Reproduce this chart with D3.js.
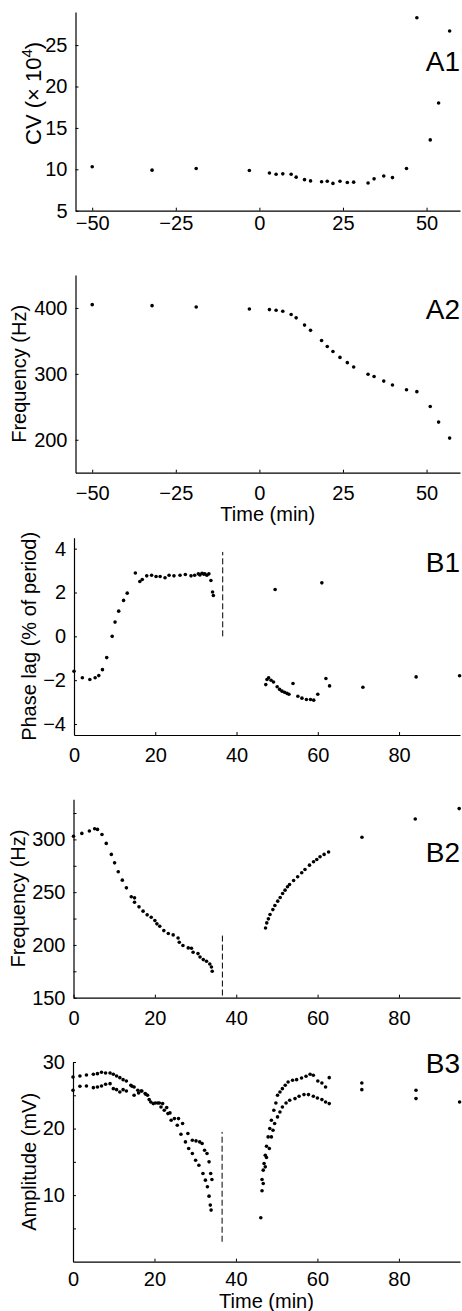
<!DOCTYPE html>
<html>
<head>
<meta charset="utf-8">
<script src="https://cdn.jsdelivr.net/npm/d3@7"></script>
<style>
  body { margin: 0; background: #fff; }
  svg { display: block; }
</style>
</head>
<body>
<div id="chart"></div>
<script>
const WIDTH = 462;
const HEIGHT = 1311;
const FONT = '"Liberation Sans", Arial, Helvetica, sans-serif';
const DOT_R = 1.8;

// ---- A: time course before / after (min)
const aTime = [-50, -32.1, -18.9, -3.0, 3.0, 5.0, 7.0, 9.5, 11.0, 13.5, 15.3, 18.6, 20.3, 22.0,
  24.1, 26.3, 28.2, 32.5, 34.3, 37.2, 39.8, 44.0, 47.1, 51.1, 53.6, 56.9];
const aCV = [10.3, 9.9, 10.1, 9.85, 9.55, 9.4, 9.45, 9.4, 9.05, 8.75, 8.6, 8.5, 8.55, 8.3,
  8.55, 8.4, 8.45, 8.35, 8.85, 9.2, 9.0, 10.1, 28.3, 13.55, 18.0, 26.7];
const aFreq = [405, 403.5, 401.5, 398.5, 397.5, 396.5, 395, 390, 385, 374, 366, 350.5, 341.5, 334,
  325, 317, 310.5, 299.5, 296, 289, 283, 275.8, 273, 250.5, 226.8, 202.5];

// ---- B1: phase lag
const b1Time = [0, 2.05, 3.9, 5.2, 6.1, 7.0, 8.05, 9.4, 10.1, 11.0, 12.2, 13.1, 15.1, 16.2, 16.8,
  17.9, 19.1, 20.2, 21.2, 22.4, 23.4, 24.6, 26.1, 27.4, 28.8, 29.7, 30.6, 31.0, 31.5, 31.9, 32.2,
  32.7, 33.2, 33.7, 34.1, 34.3,
  49.5, 61.0, 47.2, 47.5, 47.9, 48.5, 49.1, 50.0, 50.6, 51.2, 51.8, 52.4, 52.9, 53.9, 55.1, 56.1,
  57.2, 58.2, 59.0, 60.0, 62.0, 62.9, 71.1, 84.2, 94.9];
const b1Phase = [-1.59, -1.89, -1.97, -1.89, -1.79, -1.52, -0.97, 0, 0.65, 1.15, 1.64, 1.97, 2.89, 2.5, 2.59,
  2.76, 2.79, 2.73, 2.73, 2.67, 2.79, 2.76, 2.79, 2.82, 2.76, 2.79, 2.85, 2.8, 2.88, 2.84, 2.85,
  2.79, 2.85, 2.55, 2.02, 1.86,
  2.14, 2.44, -2.2, -1.97, -1.89, -2.0, -2.08, -2.3, -2.42, -2.5, -2.55, -2.6, -2.64, -2.15, -2.73, -2.82,
  -2.88, -2.88, -2.91, -2.64, -1.92, -2.26, -2.32, -1.85, -1.8];

// ---- B2: frequency
const b2Time = [0, 2.05, 3.9, 5.2, 5.9, 7.0, 8.05, 9.3, 10.1, 11.0, 12.0, 13.0, 14.2, 15.0, 15.0,
  16.1, 17.1, 18.1, 19.1, 20.0, 20.5, 21.2, 22.2, 23.3, 24.5, 25.7, 26.0, 26.9, 28.2, 29.0, 29.4,
  30.6, 31.1, 31.9, 32.7, 33.5, 33.9, 34.1,
  47.2, 47.5, 47.9, 48.3, 49.0, 49.5, 50.2, 50.8, 51.4, 52.0, 52.6, 53.1, 54.1, 55.1, 56.1, 56.9,
  58.0, 59.0, 59.8, 60.6, 61.6, 62.7, 70.9, 84.0, 94.8];
const b2Freq = [303, 305.7, 307.9, 310.1, 309.5, 304.7, 296.2, 285.8, 277.8, 269.3, 261.4, 254.1, 245.6, 244.6, 240.5,
  236.1, 232, 228.5, 226.3, 223.1, 220, 217.7, 213.6, 210.8, 209.5, 206.6, 202.5, 199.4, 197.2, 196.8, 193,
  191.8, 188.6, 186.1, 184.5, 182, 179.1, 175,
  216.1, 220.9, 224.7, 228.8, 233.5, 237.3, 241.5, 244.9, 248.7, 251.9, 255.1, 257.3, 261.1, 264.6, 268.4, 271.5,
  275.6, 278.8, 281, 283.5, 285.8, 288, 302, 319.4, 329.2];

// ---- B3: amplitude, two traces
const b3UpperTime = [0, 1.7, 3.3, 5, 6, 7, 8, 9.1, 9.9, 10.7, 11.5, 12.3, 13.1, 14.2, 15, 15.9, 16.7,
  17.7, 18.3, 19.1, 20.2, 21.2, 22, 23, 23.8, 24.9, 25.9, 26.9, 28.2, 29.3, 30.2, 31.1, 31.7, 32.3,
  32.9, 33.4, 33.8, 34.1,
  46.4, 46.7, 46.9, 47.2, 47.5, 47.9, 48.3, 48.7, 49.3, 49.8, 50.2, 50.8, 51.4, 52.1, 52.8, 53.9,
  54.9, 56.1, 57.2, 58.2, 59.0, 60.1, 61.1, 62.0, 62.9, 70.9, 84.2, 94.9];
const b3Upper = [27.75, 27.9, 28.05, 28.15, 28.25, 28.45, 28.35, 28.35, 28.15, 27.9, 27.65, 27.35, 27.15, 26.5, 26.25, 25.75, 25.65,
  25.25, 25, 24, 23.85, 23.85, 23.75, 23.15, 22.35, 21.5, 21.5, 20.75, 19.25, 18.25, 18.15, 18, 17.75, 16.75,
  16.25, 15, 13.25, 12.35,
  12.35, 13.75, 14.75, 16, 17.35, 18.75, 20, 21.25, 22.75, 23.85, 25, 25.5, 26, 26.5, 27, 27.25,
  27.35, 27.6, 27.85, 28.15, 28, 27.15, 26.85, 26.25, 27.65, 26.85, 25.75, 24];
const b3LowerTime = [0, 1.7, 3.3, 5, 6, 7, 8, 9.1, 9.9, 10.7, 11.5, 12.3, 13.1, 14.5, 15, 16.1, 16.9,
  17.9, 18.7, 19.7, 20.8, 21.6, 22.4, 23.3, 24.1, 25.6, 26.5, 27.6, 28.4, 29.3, 30.1, 30.9, 31.9, 32.5,
  33, 33.4, 33.7, 33.9,
  46.1, 46.4, 46.7, 47.2, 47.5, 48.2, 48.7, 49.1, 49.5, 50.2, 50.8, 51.4, 52.3, 53.2, 54.5, 55.5,
  56.7, 57.8, 59.0, 60.0, 61.1, 62.0, 62.9, 70.9, 84.2];
const b3Lower = [25.75, 26.35, 26.4, 26.15, 26.25, 26.4, 26.65, 26.75, 26, 25.85, 25.5, 25.85, 25.65, 26.35, 25, 25.35, 25.65,
  25.15, 24.35, 23.75, 23.85, 23.25, 22.75, 22.25, 21.25, 20.5, 19.15, 18, 17, 16.25, 15.25, 14.5, 13.25, 12.25,
  11.25, 9.85, 8.5, 7.75,
  6.6, 10.65, 11.75, 14.25, 15.65, 17, 18.75, 19.75, 20.75, 21.75, 22.5, 23.25, 23.85, 24.25, 24.5, 24.85,
  25.1, 25.1, 24.85, 24.6, 24.35, 24, 23.75, 25.85, 24.5];

// cooling block marker (dashed line) in the B panels
const cutTime = 36.6;
const b1CutRange = [0, 3.85];
const b2CutRange = [152, 210];
const b3CutRange = [3, 19.5];

const aTicks = [-50, -25, 0, 25, 50];
const bTicks = [0, 20, 40, 60, 80];

const svg = d3.select('#chart')
  .append('svg')
  .attr('width', WIDTH)
  .attr('height', HEIGHT)
  .attr('font-family', FONT);

/**
 * Draws one panel: axes, dots, label
 */
const drawPanel = (p) => {
  const xScale = d3.scaleLinear().domain(p.xDomain).range([p.left, p.right]);
  const yScale = d3.scaleLinear().domain(p.yDomain).range([p.bottom, p.top]);

  const xAxis = d3.axisBottom(xScale)
    .tickValues(p.xTicks)
    .tickSizeInner(-3)
    .tickSizeOuter(0)
    .tickPadding(p.xPad);
  const yAxis = d3.axisLeft(yScale)
    .tickValues(p.yTicks)
    .tickFormat(d => p.yLabels.includes(d) ? d3.format('')(d) : '')
    .tickSizeInner(-3)
    .tickSizeOuter(0)
    .tickPadding(8);

  const gx = svg.append('g')
    .attr('transform', `translate(0, ${p.bottom})`)
    .call(xAxis);
  const gy = svg.append('g')
    .attr('transform', `translate(${p.left}, 0)`)
    .call(yAxis);

  [gx, gy].forEach(g => {
    g.attr('font-family', FONT).attr('font-size', 20);
    g.selectAll('text').attr('fill', '#000');
    g.selectAll('line').attr('stroke', '#000');
    g.select('.domain').attr('stroke', '#000').attr('stroke-width', 1.2);
  });

  // dashed marker
  if (p.cut) {
    svg.append('line')
      .attr('x1', xScale(cutTime))
      .attr('x2', xScale(cutTime))
      .attr('y1', yScale(p.cut[0]))
      .attr('y2', yScale(p.cut[1]))
      .attr('stroke', '#000')
      .attr('stroke-width', 1)
      .attr('stroke-dasharray', '6,3');
  }

  // dots
  p.series.forEach(s => {
    svg.append('g')
      .selectAll('circle')
      .data(s.x.map((t, i) => ({ t, v: s.y[i] })))
      .enter()
      .append('circle')
      .attr('cx', d => xScale(d.t))
      .attr('cy', d => yScale(d.v))
      .attr('r', DOT_R)
      .attr('fill', '#000');
  });

  // y label
  const yl = svg.append('text')
    .attr('transform', `translate(${p.yLabelX}, ${(p.top + p.bottom) / 2 + (p.yLabelShift || 0)}) rotate(-90)`)
    .attr('text-anchor', 'middle')
    .attr('font-size', p.yLabelSize || 20)
    .attr('fill', '#000');
  p.yLabel(yl);

  // panel label
  svg.append('text')
    .attr('x', 460)
    .attr('y', p.tagY)
    .attr('text-anchor', 'end')
    .attr('font-size', 28)
    .attr('fill', '#000')
    .text(p.tag);

  if (p.xLabel) {
    svg.append('text')
      .attr('x', (p.left + p.right) / 2)
      .attr('y', p.xLabelY)
      .attr('text-anchor', 'middle')
      .attr('font-size', 20)
      .attr('fill', '#000')
      .text(p.xLabel);
  }
};

const panels = [
  {
    tag: 'A1', tagY: 71, left: 75.5, right: 460, top: 12, bottom: 210.7, xPad: 5,
    xDomain: [-55, 60], yDomain: [5, 29], xTicks: aTicks,
    yTicks: [5, 10, 15, 20, 25], yLabels: [5, 10, 15, 20, 25],
    series: [{ x: aTime, y: aCV }],
    yLabelX: 41, yLabelShift: -18, yLabelSize: 22,
    yLabel: t => {
      t.append('tspan').text('CV (× 10');
      t.append('tspan').attr('dy', -9).attr('font-size', 15).text('4');
      t.append('tspan').attr('dy', 9).text(')');
    }
  },
  {
    tag: 'A2', tagY: 319, left: 75.5, right: 460, top: 275, bottom: 472.7, xPad: 13,
    xDomain: [-55, 60], yDomain: [150, 450], xTicks: aTicks,
    yTicks: [200, 300, 400], yLabels: [200, 300, 400],
    series: [{ x: aTime, y: aFreq }],
    yLabelX: 26,
    yLabel: t => t.text('Frequency (Hz)'),
    xLabel: 'Time (min)', xLabelY: 521
  },
  {
    tag: 'B1', tagY: 572, left: 74, right: 460, top: 537.7, bottom: 735, xPad: 13,
    xDomain: [0, 95], yDomain: [-4.5, 4.5], xTicks: bTicks,
    yTicks: [-4, -2, 0, 2, 4], yLabels: [-4, -2, 0, 2, 4],
    series: [{ x: b1Time, y: b1Phase }],
    cut: b1CutRange,
    yLabelX: 36,
    yLabel: t => t.text('Phase lag (% of period)')
  },
  {
    tag: 'B2', tagY: 862, left: 73.5, right: 460, top: 799.3, bottom: 997.7, xPad: 13,
    xDomain: [0, 95], yDomain: [150, 338], xTicks: bTicks,
    yTicks: [150, 175, 200, 225, 250, 275, 300, 325], yLabels: [150, 200, 250, 300],
    series: [{ x: b2Time, y: b2Freq }],
    cut: b2CutRange,
    yLabelX: 25,
    yLabel: t => t.text('Frequency (Hz)')
  },
  {
    tag: 'B3', tagY: 1073, left: 73, right: 460, top: 1062, bottom: 1261.7, xPad: 10,
    xDomain: [0, 95], yDomain: [0, 30], xTicks: bTicks,
    yTicks: [5, 10, 15, 20, 25, 30], yLabels: [10, 20, 30],
    series: [{ x: b3UpperTime, y: b3Upper }, { x: b3LowerTime, y: b3Lower }],
    cut: b3CutRange,
    yLabelX: 36,
    yLabel: t => t.text('Amplitude (mV)'),
    xLabel: 'Time (min)', xLabelY: 1308
  }
];

panels.forEach(drawPanel);
</script>
</body>
</html>
